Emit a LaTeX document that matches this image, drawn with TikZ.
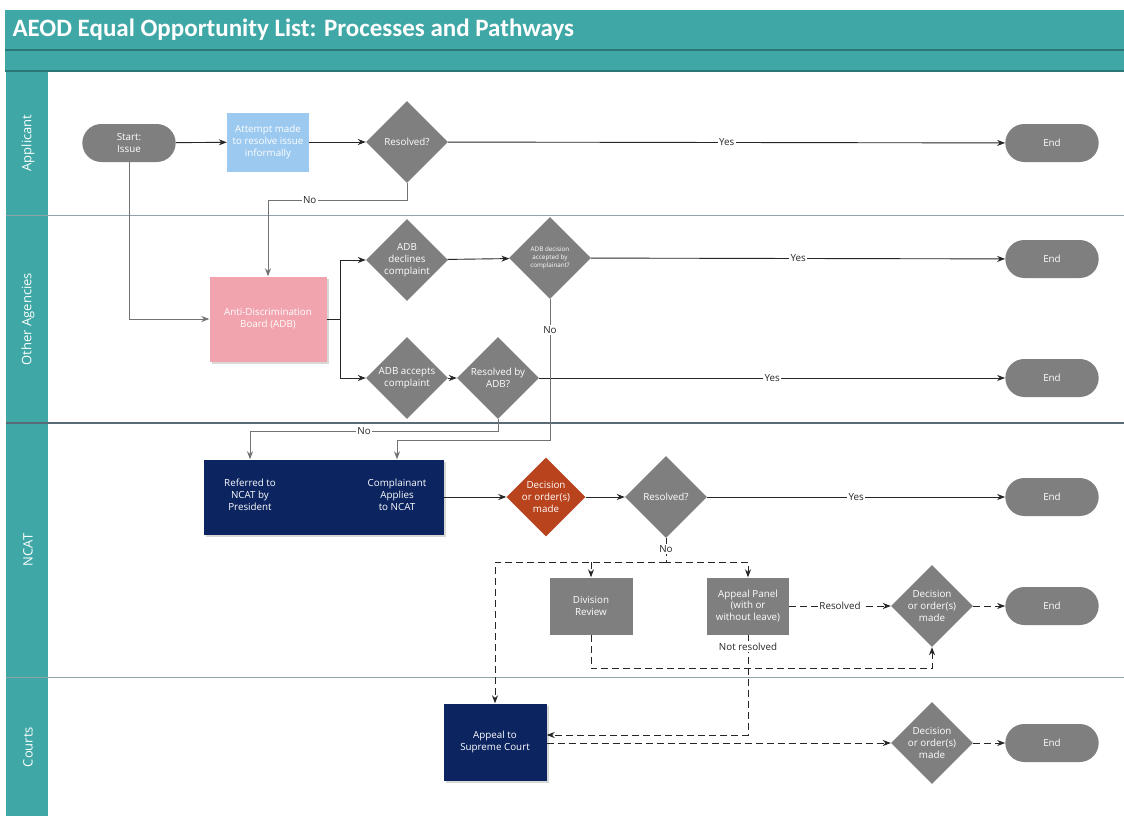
\documentclass[tikz,border=0pt]{standalone}
\usepackage{fontspec}
\setmainfont{Open Sans}
\newfontfamily\titlefont{Carlito}
\usetikzlibrary{shapes.geometric,shapes.misc,arrows.meta,calc,shadows}

\definecolor{teal1}{HTML}{3FA7A5}
\definecolor{teal2}{HTML}{2C7775}
\definecolor{nodegrey}{HTML}{7F7F7F}
\definecolor{skyblue}{HTML}{9CC9F0}
\definecolor{rosepink}{HTML}{F2A4AE}
\definecolor{navy}{HTML}{0C2460}
\definecolor{rust}{HTML}{B8431C}
\definecolor{lanegrey}{HTML}{8FA3A8}
\definecolor{slate}{HTML}{5A6B78}

\begin{document}
\begin{tikzpicture}[x=1pt, y=-1pt,
	every node/.style={font=\fontsize{9.8}{11.8}\selectfont, text=white, align=center},
	pill/.style={rounded rectangle, fill=nodegrey, minimum width=100pt, minimum height=38pt},
	decide/.style={diamond, aspect=1, fill=nodegrey, minimum width=82pt, minimum height=82pt, inner sep=0pt},
	boxnode/.style={rectangle, inner sep=2pt},
	shade/.style={drop shadow={opacity=0.3, shadow xshift=2pt, shadow yshift=-2pt}},
	flow/.style={draw=black!85, line width=0.9pt, -{Stealth[length=8pt, width=6pt]}},
	link/.style={flow, draw=black!55},
	dashflow/.style={flow, dash pattern=on 7pt off 4pt},
	lbl/.style={fill=white, text=black!85, inner sep=1.5pt},
	lane/.style={rotate=90, font=\fontsize{13}{15}\selectfont}]
	\useasboundingbox (0,0) rectangle (1124,816);
	\fill[white] (0,0) rectangle (1124,816);

	% intestazione e corsie
	\fill[teal1] (5,10) rectangle (1124,71);
	\fill[teal1] (6,71) rectangle (48,816);
	\draw[teal2, line width=1.2pt] (5,50) -- (1124,50);
	\draw[teal2, line width=1.2pt] (5,71) -- (1124,71);
	\draw[lanegrey, line width=0.8pt] (6,215) -- (1124,215);
	\draw[slate, line width=1.5pt] (6,423) -- (1124,423);
	\draw[lanegrey, line width=0.8pt] (6,677) -- (1124,677);
	\node[anchor=west, font=\titlefont\fontsize{25}{28}\selectfont\bfseries] (title) at (9,30) {AEOD Equal Opportunity List: Processes and Pathways};
	\node[lane] (lapp) at (28,143) {Applicant};
	\node[lane] (lage) at (28,319) {Other Agencies};
	\node[lane] (lncat) at (28,550) {NCAT};
	\node[lane] (lcourt) at (28,747) {Courts};

	% richiedente
	\node[pill] (start) at (129,143) {Start:\\Issue};
	\node[boxnode, fill=skyblue, minimum width=82pt, minimum height=59pt] (att) at (268,142) {Attempt made\\to resolve issue\\informally};
	\node[decide] (res1) at (407,142) {Resolved?};
	\node[pill] (end1) at (1052,143) {End};

	% altre agenzie
	\node[boxnode, fill=rosepink, shade, minimum width=117pt, minimum height=85pt] (adb) at (268,319) {Anti-Discrimination\\Board (ADB)};
	\node[decide] (dcl) at (407,260) {ADB\\declines\\complaint};
	\node[decide, font=\fontsize{6.3}{7.8}\selectfont] (acc) at (550,258) {ADB decision\\accepted by\\complainant?};
	\node[pill] (end2) at (1052,259) {End};
	\node[decide] (acp) at (407,378) {ADB accepts\\complaint};
	\node[decide] (rba) at (498,378) {Resolved by\\ADB?};
	\node[pill] (end3) at (1052,378) {End};

	% NCAT
	\node[boxnode, fill=navy, shade, minimum width=240pt, minimum height=75pt] (ncat) at (324,497) {};
	\node (ref) at (250,495) {Referred to\\NCAT by\\President};
	\node (app) at (397,495) {Complainant\\Applies\\to NCAT};
	\node[decide, fill=rust, minimum width=79pt, minimum height=79pt] (dom) at (546,497) {Decision\\or order(s)\\made};
	\node[decide] (res2) at (666,497) {Resolved?};
	\node[pill] (end4) at (1052,497) {End};
	\node[boxnode, fill=nodegrey, minimum width=83pt, minimum height=57pt] (drv) at (591,606) {Division\\Review};
	\node[boxnode, fill=nodegrey, minimum width=82pt, minimum height=57pt] (apl) at (748,606) {Appeal Panel\\(with or\\without leave)};
	\node[decide] (dom2) at (932,606) {Decision\\or order(s)\\made};
	\node[pill] (end5) at (1052,606) {End};

	% tribunali
	\node[boxnode, fill=navy, shade, minimum width=103pt, minimum height=77pt] (sc) at (495,742) {Appeal to\\Supreme Court};
	\node[decide] (dom3) at (932,743) {Decision\\or order(s)\\made};
	\node[pill] (end6) at (1052,743) {End};

	% frecce
	\draw[flow] (start) -- (att);
	\draw[flow] (att) -- (res1);
	\draw[flow] (res1) -- node[lbl] {Yes} (end1);
	\draw[link] (res1.south) -- ++(0,17) -| node[lbl, pos=0.35] {No} (adb.north);
	\draw[link] (start.south) |- (adb.west);
	\draw[flow] (adb.east) -- ++(14,0) |- (dcl.west);
	\draw[flow] (adb.east) -- ++(14,0) |- (acp.west);
	\draw[flow] (dcl) -- (acc);
	\draw[flow] (acc) -- node[lbl] {Yes} (end2);
	\draw[flow] (acp) -- (rba);
	\draw[flow] (rba) -- node[lbl] {Yes} (end3);
	\draw[link] (acc.south) -- node[lbl, pos=0.22] {No} ++(0,141) -| (app |- ncat.north);
	\draw[link] (rba.south) -- ++(0,12) -| node[lbl, pos=0.27] {No} (ref |- ncat.north);
	\draw[flow] (ncat.east |- dom) -- (dom);
	\draw[flow] (dom) -- (res2);
	\draw[flow] (res2) -- node[lbl] {Yes} (end4);

	% percorsi tratteggiati
	\draw[dashflow] (res2.south) -- node[lbl, pos=0.45] {No} ++(0,24) coordinate (split) -| (apl.north);
	\draw[dashflow] (split) -| (sc.north);
	\draw[dashflow] (drv.north |- split) -- (drv.north);
	\draw[dashflow] (apl.east) -- node[lbl] {Resolved} (dom2.west);
	\draw[dashflow] (dom2) -- (end5);
	\draw[dashflow] (drv.south) -- ++(0,34) -| (dom2.south);
	\draw[dashflow] (apl.south) |- node[lbl, pos=0.06] {Not resolved} ($(sc.east)+(0,-7)$);
	\draw[dashflow] (sc.east |- dom3.west) -- (dom3.west);
	\draw[dashflow] (dom3) -- (end6);
\end{tikzpicture}
\end{document}
